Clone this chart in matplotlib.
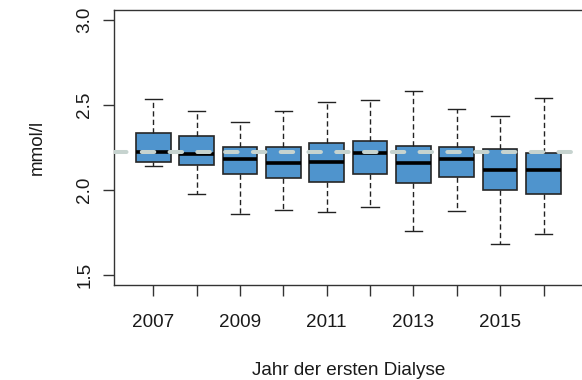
import matplotlib
matplotlib.use("Agg")
import matplotlib.pyplot as plt

plt.rcParams["font.family"] = ["Liberation Sans", "DejaVu Sans"]
plt.rcParams["lines.scale_dashes"] = False

years = [2007, 2008, 2009, 2010, 2011, 2012, 2013, 2014, 2015, 2016]
whisker_low = [2.139, 1.978, 1.862, 1.884, 1.868, 1.898, 1.760, 1.876, 1.680, 1.739]
q1 = [2.165, 2.150, 2.092, 2.072, 2.049, 2.092, 2.041, 2.078, 1.998, 1.978]
median = [2.225, 2.210, 2.182, 2.159, 2.166, 2.218, 2.159, 2.182, 2.115, 2.115]
q3 = [2.333, 2.318, 2.255, 2.255, 2.276, 2.290, 2.260, 2.255, 2.239, 2.219]
whisker_high = [2.535, 2.465, 2.398, 2.465, 2.515, 2.529, 2.580, 2.478, 2.433, 2.543]
reference = 2.225
tick_labels = ["2007", "", "2009", "", "2011", "", "2013", "", "2015", ""]

stats = []
for i, y in enumerate(years):
    stats.append({
        "whislo": whisker_low[i], "q1": q1[i], "med": median[i],
        "q3": q3[i], "whishi": whisker_high[i], "fliers": [], "label": str(y),
    })

fig = plt.figure(figsize=(5.82, 3.8), dpi=100)
ax = fig.add_axes([0.1964, 0.2492, 0.8045, 0.7253])

positions = list(range(1, len(years) + 1))
ax.bxp(
    stats, positions=positions, widths=0.8, patch_artist=True,
    boxprops=dict(facecolor="#4F94CD", edgecolor="#262626", linewidth=1.2),
    medianprops=dict(color="black", linewidth=2.6, solid_capstyle="butt"),
    whiskerprops=dict(color="#222222", linewidth=1.0, linestyle=(0, (3.8, 2.3))),
    capprops=dict(color="#222222", linewidth=1.0),
    capwidths=0.4,
)

# reference level across all years
ax.axhline(reference, color="#c6d3cf", linewidth=2.9,
           linestyle=(0, (9.0, 11.0)), solid_capstyle="round",
           dash_capstyle="round", zorder=5)

ax.set_xlim(0.1, 10.9)
ax.set_ylim(1.44, 3.06)
ax.set_xticks(positions)
ax.set_xticklabels(tick_labels)
ax.set_yticks([1.5, 2.0, 2.5, 3.0])
ax.set_yticklabels(["1.5", "2.0", "2.5", "3.0"], rotation=90, va="center")

for s in ax.spines.values():
    s.set_color("#333333")
    s.set_linewidth(1.0)

ax.tick_params(axis="both", length=8, width=1.0, color="#333333",
               labelsize=13.6, labelcolor="#1a1a1a")
ax.tick_params(axis="x", pad=13)
ax.tick_params(axis="y", pad=7)

ax.set_xlabel("Jahr der ersten Dialyse", fontsize=13.6, color="#1a1a1a", labelpad=22)
ax.set_ylabel("mmol/l", fontsize=13.6, color="#1a1a1a", labelpad=22)

fig.savefig("out.png", dpi=100)
